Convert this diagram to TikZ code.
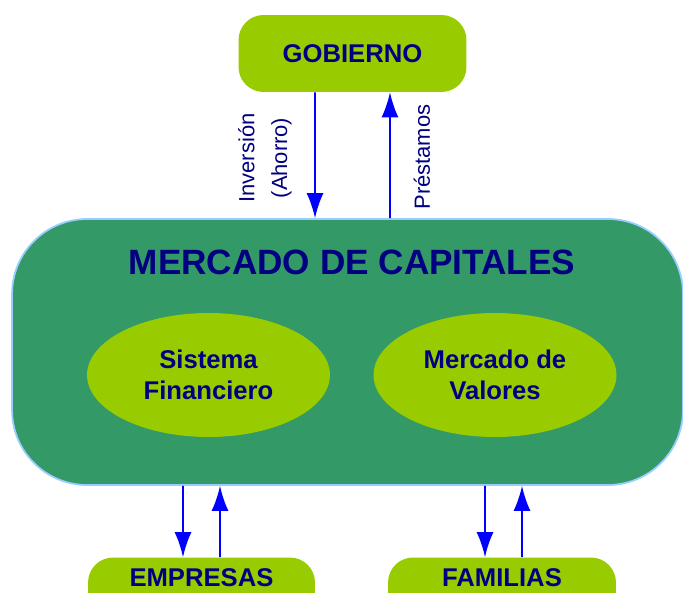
\documentclass[tikz,border=0pt]{standalone}
\usepackage{fontspec}
\setmainfont{Liberation Sans}
\usetikzlibrary{arrows.meta,shapes.geometric}

\definecolor{verdeosc}{HTML}{339966}
\definecolor{lima}{HTML}{99CC00}
\definecolor{marino}{HTML}{000080}
\definecolor{bordeazul}{HTML}{99CCFF}

\begin{document}
\begin{tikzpicture}[x=0.02cm,y=-0.02cm,
 caja/.style={fill=lima,rounded corners=0.5cm,minimum width=4.56cm,minimum height=1.54cm,
   font=\fontsize{14.6}{17}\selectfont\bfseries,text=marino},
 cajab/.style={caja,text height=0.37cm,text depth=0.76cm},
 elip/.style={ellipse,fill=lima,minimum width=4.86cm,minimum height=2.48cm,inner sep=0pt,
   align=center,font=\fontsize{14.6}{17.6}\selectfont\bfseries,text=marino},
 lab/.style={rotate=90,font=\fontsize{12.5}{18.7}\selectfont,text=marino,align=center},
 arr/.style={-{Latex[length=0.5cm,width=0.34cm]},line width=1.1pt,draw=blue}]
\useasboundingbox (0,0) rectangle (683,592);
\clip (0,0) rectangle (683,592);
% mercado de capitales
\node[fill=verdeosc,draw=bordeazul,line width=1pt,rounded corners=1.5cm,
  minimum width=13.42cm,minimum height=5.32cm] (mc) at (347.5,352) {};
\node[font=\fontsize{20}{22}\selectfont\bfseries,text=marino] (tit) at (352,262) {MERCADO DE CAPITALES};
\node[elip] (sf) at (208.5,375) {Sistema\\Financiero};
\node[elip] (mv) at (495,375) {Mercado de\\Valores};
% agentes
\node[caja] (gob) at (352.5,53.5) {GOBIERNO};
\node[cajab,minimum width=4.54cm] (emp) at (201.5,596) {EMPRESAS};
\node[cajab] (fam) at (502,596) {FAMILIAS};
% flujos
\draw[arr] ([xshift=-0.75cm]gob.south)--([xshift=-0.65cm]mc.north);
\draw[arr] ([xshift=0.85cm]mc.north)--([xshift=0.75cm]gob.south);
\node[lab] (inv) at (265,158) {Inversión\\(Ahorro)};
\node[lab] (pre) at (422,157) {Préstamos};
\draw[arr] (mc.south-|183,0)--([xshift=-0.37cm]emp.north);
\draw[arr] ([xshift=0.37cm]emp.north)--(mc.south-|220,0);
\draw[arr] (mc.south-|485,0)--([xshift=-0.34cm]fam.north);
\draw[arr] ([xshift=0.4cm]fam.north)--(mc.south-|522,0);
\end{tikzpicture}
\end{document}
